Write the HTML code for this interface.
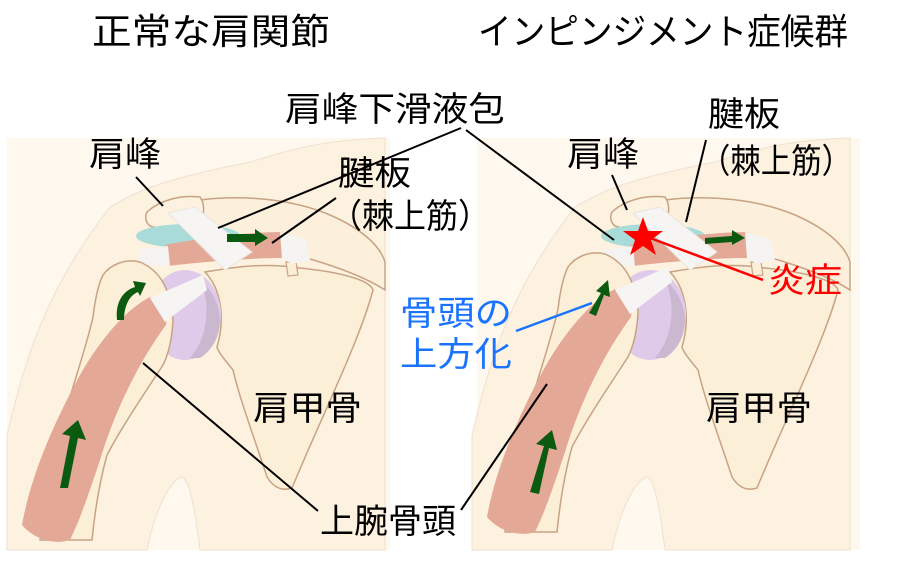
<!DOCTYPE html>
<html><head><meta charset="utf-8"><style>
html,body{margin:0;padding:0;background:#fff;}
svg{display:block;}
text{font-family:"Liberation Sans","Noto Sans CJK JP",sans-serif;}
</style></head><body>
<svg width="920" height="580" viewBox="0 0 920 580" xmlns="http://www.w3.org/2000/svg">
<defs>
<g id="anat">
  <path d="M7,435 C25,360 45,290 110,207 C140,190 160,180 250,162 C290,150 320,140 385,138 L385,550 L200,550 C195,510 190,480 182,477 C170,480 155,510 147,550 L7,550 Z" fill="#fdf1df" stroke="#efe1cf" stroke-width="1"/>
  <path d="M205,272 C230,268 260,262 300,268 C340,272 370,280 373,290 C360,340 320,420 292,488 C280,492 272,485 267,477 C255,440 240,400 233,370 C225,360 218,352 217,347 C225,320 222,290 205,272 Z" fill="#fcefd8" stroke="#c7a384" stroke-width="1.5"/>
  <path d="M200,200 C240,195 290,198 330,215 C360,228 380,245 385,262 L385,290 C370,280 345,270 320,262 C300,255 280,255 250,258 C230,258 210,250 200,238 Z" fill="#fcf0dc" stroke="#c7a384" stroke-width="1.5"/>
  <path d="M147,212 C160,200 180,195 200,197 C206,205 204,220 198,226 C180,230 160,230 150,226 C145,222 145,216 147,212 Z" fill="#fdf2e0" stroke="#c7a384" stroke-width="1.5"/>
  <path d="M286,262 L296,262 L298,275 L288,276 Z" fill="#fcefd8" stroke="#c7a384" stroke-width="1.2"/>
  <ellipse cx="185" cy="315" rx="36" ry="45" fill="#dfcaea"/>
  <path d="M200,280 C225,300 228,340 200,358 L190,358 C210,335 210,300 200,280 Z" fill="#c9b8cf"/>
  <ellipse cx="188" cy="236" rx="52" ry="12" fill="#a9dcd9"/>
  <path d="M165,245 C200,238 250,232 282,232 L282,258 C250,258 200,262 168,266 Z" fill="#e4a897"/>
  <path d="M280,232 L306,240 L310,260 L292,264 L282,258 Z" fill="#f6f4f2"/>
  <path d="M138,250 L168,246 L170,266 L140,264 Z" fill="#f5f3f1"/>
  <path d="M168,213 L195,207 L252,252 L225,270 Z" fill="#f6f5f4" stroke="#e8e4e0" stroke-width="1"/>
</g>
<g id="hum">
  <path d="M103,275 C110,265 125,258 140,262 C158,270 170,285 173,320 C172,340 168,355 163,365 C140,400 120,430 107,455 C100,480 95,510 92,540 L40,540 C50,490 60,440 67,407 C78,370 88,340 93,317 C95,300 98,285 103,275 Z" fill="#fcefd8" stroke="#c7a384" stroke-width="1.5"/>
  <path d="M150,297 C160,305 168,315 166,325 C140,360 115,410 100,460 C90,490 80,520 70,540 C55,545 35,540 22,525 C30,480 50,430 80,375 C100,340 125,310 150,297 Z" fill="#e4a897"/>
  <path d="M150,298 L203,275 L207,290 L165,322 Z" fill="#f6f5f4"/>
</g>
</defs>

<rect x="7" y="138" width="383" height="412" fill="#fef8ee"/>
<rect x="477" y="138" width="383" height="412" fill="#fef8ee"/>

<use href="#anat"/>
<use href="#hum"/>
<g transform="translate(465,0)"><use href="#anat"/></g>
<g transform="translate(465,-8)"><use href="#hum"/></g>

<g fill="#0b5a10">
  <polygon points="60,488 68,488 78,438 86,440 78,420 62,434 70,436"/>
  <polygon points="227,234 255,234 255,229 268,238 255,246 255,242 227,242"/>
  <path d="M117,320 C115,300 125,290 135,287 L133,281 L146,283 L140,296 L138,292 C130,295 124,305 124,320 Z"/>
</g>
<g fill="#0b5a10">
  <polygon points="530,492 539,494 549,448 557,450 552,430 536,444 544,446"/>
  <polygon points="589,313 596,316 604,295 610,297 608,280 596,291 601,293"/>
  <polygon points="705,238 732,236 732,230 745,238 732,245 732,242 705,244"/>
</g>

<g stroke="#000" stroke-width="2" fill="none">
  <line x1="461" y1="128" x2="218" y2="228"/>
  <line x1="466" y1="130" x2="614" y2="240"/>
  <line x1="136" y1="177" x2="163" y2="206"/>
  <line x1="336" y1="198" x2="272" y2="243"/>
  <line x1="143" y1="363" x2="318" y2="511"/>
  <line x1="547" y1="384" x2="461" y2="510"/>
  <line x1="612" y1="175" x2="627" y2="210"/>
  <line x1="706" y1="140" x2="686" y2="222"/>
</g>
<line x1="650" y1="238" x2="763" y2="280" stroke="#f00" stroke-width="2.5"/>
<line x1="516" y1="331" x2="592" y2="303" stroke="#1a73ff" stroke-width="2.5"/>
<polygon fill="#f00" points="643,217 648,231 663,231 651,240 656,255 643,246 630,255 635,240 623,231 638,231"/>

<g font-size="34" fill="#000">
  <text x="92" y="44" font-size="36" textLength="238" lengthAdjust="spacingAndGlyphs">正常な肩関節</text>
  <text x="478" y="44" font-size="36" textLength="370" lengthAdjust="spacingAndGlyphs">インピンジメント症候群</text>
  <text x="285" y="121" textLength="220" lengthAdjust="spacingAndGlyphs">肩峰下滑液包</text>
  <text x="89" y="166" textLength="72" lengthAdjust="spacingAndGlyphs">肩峰</text>
  <text x="338" y="185" textLength="73" lengthAdjust="spacingAndGlyphs">腱板</text>
  <text x="330" y="228" textLength="160" lengthAdjust="spacingAndGlyphs">（棘上筋）</text>
  <text x="253" y="420" textLength="109" lengthAdjust="spacingAndGlyphs">肩甲骨</text>
  <text x="320" y="533" textLength="136" lengthAdjust="spacingAndGlyphs">上腕骨頭</text>
  <text x="567" y="166" textLength="72" lengthAdjust="spacingAndGlyphs">肩峰</text>
  <text x="708" y="126" textLength="72" lengthAdjust="spacingAndGlyphs">腱板</text>
  <text x="700" y="173" textLength="152" lengthAdjust="spacingAndGlyphs">（棘上筋）</text>
  <text x="706" y="420" textLength="106" lengthAdjust="spacingAndGlyphs">肩甲骨</text>
  <text x="768" y="292" fill="#f00" textLength="74" lengthAdjust="spacingAndGlyphs">炎症</text>
  <text x="400" y="325" fill="#1a73ff" textLength="112" lengthAdjust="spacingAndGlyphs">骨頭の</text>
  <text x="400" y="366" fill="#1a73ff" textLength="112" lengthAdjust="spacingAndGlyphs">上方化</text>
</g>
</svg>
</body></html>
